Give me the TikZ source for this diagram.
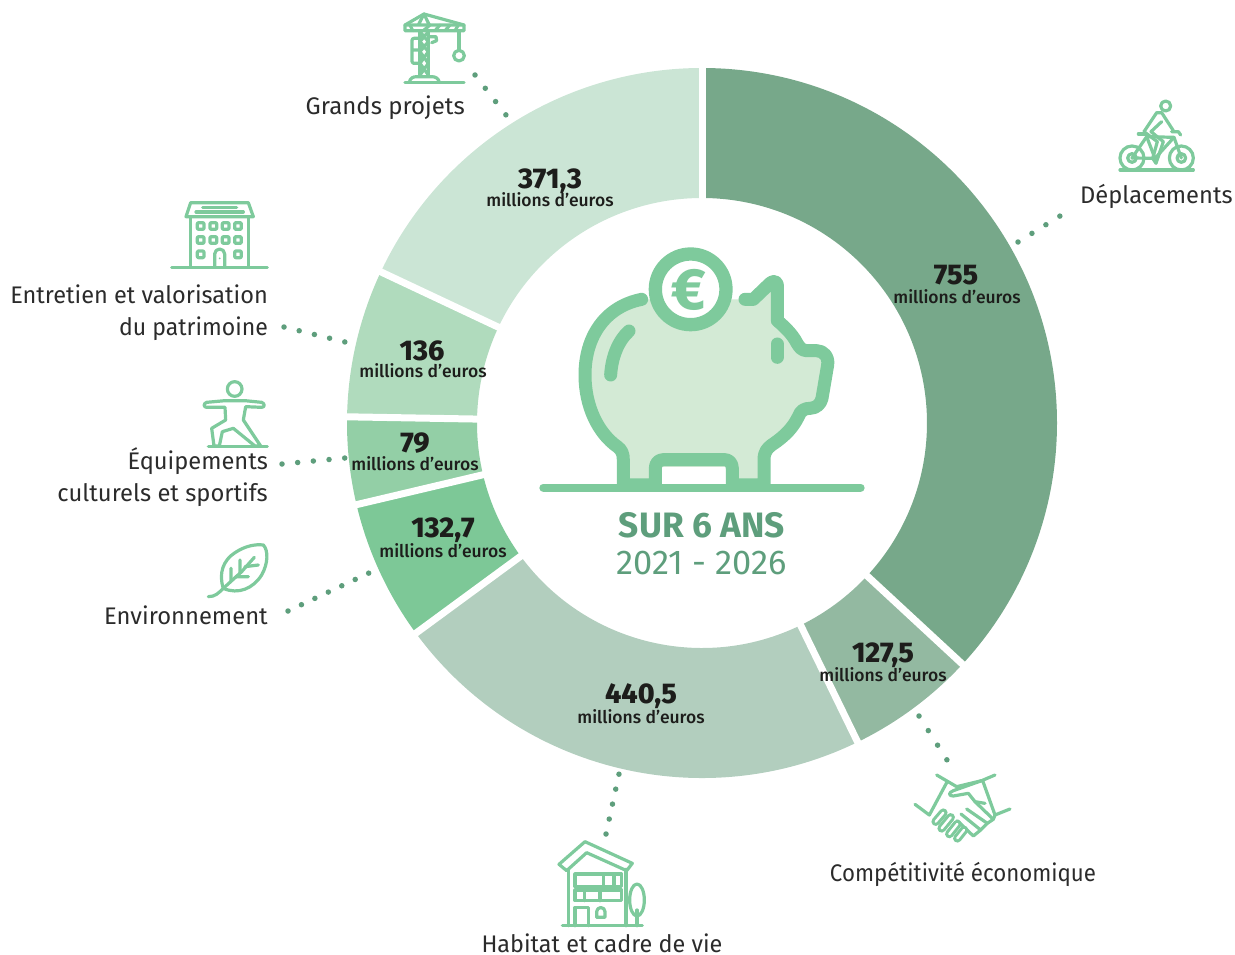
\documentclass[tikz,border=0pt]{standalone}
\usepackage{fontspec}
\setmainfont{Fira Sans}
\newfontfamily\heavyfont{Fira Sans}[UprightFont=*-ExtraBold]
\newfontfamily\mediumfont{Fira Sans}[UprightFont=*-Medium]
\usetikzlibrary{calc}
\definecolor{icongreen}{HTML}{7ECA9C}
\definecolor{pigfill}{HTML}{D3EAD5}
\definecolor{dotgreen}{HTML}{5E9E7C}
\definecolor{inkc}{HTML}{1D1D1B}
\definecolor{labelc}{HTML}{2B2B2B}
\definecolor{segA}{HTML}{77A88A}
\definecolor{segB}{HTML}{93B9A1}
\definecolor{segC}{HTML}{B2CEBE}
\definecolor{segD}{HTML}{7DC897}
\definecolor{segE}{HTML}{93CFA6}
\definecolor{segF}{HTML}{B0DBBD}
\definecolor{segG}{HTML}{CBE5D5}
\tikzset{
  catlabel/.style={font=\fontsize{24}{24}\selectfont,text=labelc,inner sep=0pt},
  numlabel/.style={font=\heavyfont\fontsize{28.5}{28.5}\selectfont,text=inkc,anchor=base,inner sep=0pt},
  unitlabel/.style={font=\mediumfont\fontsize{17.5}{17.5}\selectfont,text=inkc,anchor=base,inner sep=0pt},
  dotline/.style={dotgreen,line width=5.5,line cap=round,dash pattern=on 0pt off #1},
  dotline/.default=15,
  ico/.style={icongreen,line width=3.2,line cap=round,line join=round},
  pigline/.style={icongreen,line width=13,line cap=round,line join=round},
  crop/.style={x=0.33333pt,y=-0.33333pt},
}
\newcommand{\seg}[3]{\fill[#1] (#2:355) arc[start angle=#2,end angle=#3,radius=355] -- (#3:225) arc[start angle=#3,end angle=#2,radius=225] -- cycle;}
\newcommand{\gapline}[1]{\draw[white,line width=7] (#1:215) -- (#1:365);}
\newcommand{\sx}[2]{\scalebox{#1}[1]{#2}}
\begin{document}
\begin{tikzpicture}[x=1pt,y=-1pt]
\useasboundingbox (0,0) rectangle (1235,955);
% donut
\begin{scope}[shift={(702,423)},x=1pt,y=1pt]
  \seg{segA}{90}{-42.8}
  \seg{segB}{-42.8}{-64}
  \seg{segC}{-64}{-143.7}
  \seg{segD}{-143.7}{-166.7}
  \seg{segE}{-166.7}{-181}
  \seg{segF}{-181}{-205.2}
  \seg{segG}{-205.2}{-270}
  \foreach \a in {90,-42.8,-64,-143.7,-166.7,-181,-205.2}{\gapline{\a}}
\end{scope}
% pig
\begin{scope}[shift={(530,230)},crop]
  \fill[pigfill] (335,208) .. controls (225,230) and (165,320) .. (165,435)
     .. controls (165,530) and (205,610) .. (262,650)
     .. controls (275,660) and (280,670) .. (280,690) -- (280,765) -- (702,765) -- (702,690)
     .. controls (702,665) and (712,655) .. (725,645)
     .. controls (770,615) and (790,590) .. (805,560)
     .. controls (812,540) and (825,535) .. (840,535)
     .. controls (860,535) and (873,520) .. (876,505) -- (893,405)
     .. controls (897,380) and (880,362) .. (860,362) -- (830,362)
     .. controls (815,362) and (807,350) .. (800,338)
     .. controls (790,318) and (770,295) .. (742,272) -- (742,165)
     .. controls (742,155) and (730,150) .. (720,160) -- (670,208) -- (335,208) -- cycle;
  \fill[white] (376,765) -- (376,710) -- (607,710) -- (607,765) -- cycle;
  \draw[pigline] (335,208) .. controls (225,230) and (165,320) .. (165,435)
     .. controls (165,530) and (205,610) .. (262,650)
     .. controls (275,660) and (280,670) .. (280,690) -- (280,765) -- (376,765) -- (376,715)
     .. controls (376,700) and (385,689) .. (400,689) -- (585,689)
     .. controls (597,689) and (607,700) .. (607,715) -- (607,765) -- (702,765) -- (702,690)
     .. controls (702,665) and (712,655) .. (725,645)
     .. controls (770,615) and (790,590) .. (805,560)
     .. controls (812,540) and (825,535) .. (840,535)
     .. controls (860,535) and (873,520) .. (876,505) -- (893,405)
     .. controls (897,380) and (880,362) .. (860,362) -- (830,362)
     .. controls (815,362) and (807,350) .. (800,338)
     .. controls (790,318) and (770,295) .. (742,272) -- (742,165)
     .. controls (742,155) and (730,150) .. (720,160) -- (670,208) -- (645,208);
  \draw[pigline] (297,303) .. controls (262,335) and (245,385) .. (242,435);
  \draw[pigline] (741,342) -- (741,382);
  \draw[icongreen,line width=8,line cap=round] (40,773) -- (992,773);
  \fill[white] (482,178) circle (106);
  \draw[icongreen,line width=13.3] (482,178) circle (106);
  \node[font=\heavyfont\fontsize{58}{58}\selectfont,text=icongreen,inner sep=0pt] (euro) at (475,180) {€};
\end{scope}
\node[font=\bfseries\fontsize{35.3}{35.3}\selectfont,text=dotgreen,anchor=base,inner sep=0pt] (sur) at (702,537) {SUR 6 ANS};
\node[font=\fontsize{34.4}{34.4}\selectfont,text=dotgreen,anchor=base,inner sep=0pt] (ans) at (702,574) {2021 - 2026};
% values
\node[numlabel] (n1) at (956,284) {755};
\node[unitlabel] (u1) at (957,303) {millions d’euros};
\node[numlabel] (n2) at (883,662) {127,5};
\node[unitlabel] (u2) at (883,681) {millions d’euros};
\node[numlabel] (n3) at (641,703) {440,5};
\node[unitlabel] (u3) at (641,723) {millions d’euros};
\node[numlabel] (n4) at (443,537) {132,7};
\node[unitlabel] (u4) at (443,557) {millions d’euros};
\node[numlabel] (n5) at (415,452) {79};
\node[unitlabel] (u5) at (415,470) {millions d’euros};
\node[numlabel] (n6) at (422,360) {136};
\node[unitlabel] (u6) at (423,377) {millions d’euros};
\node[numlabel] (n7) at (550,189) {371,3};
\node[unitlabel] (u7) at (550,207) {millions d’euros};
% category labels
\node[catlabel,anchor=base east] (grands) at (465,114.5) {Grands projets};
\node[catlabel,anchor=base west] (depl) at (1080,204) {\sx{0.987}{Déplacements}};
\node[catlabel,anchor=base east] (entre) at (268,303) {\sx{0.98}{Entretien et valorisation}};
\node[catlabel,anchor=base east] (patri) at (268,335) {\sx{0.96}{du patrimoine}};
\node[catlabel,anchor=base east] (equip) at (268,469) {\sx{0.985}{Équipements}};
\node[catlabel,anchor=base east] (cult) at (268,501) {\sx{0.99}{culturels et sportifs}};
\node[catlabel,anchor=base east] (envi) at (268,624) {\sx{0.99}{Environnement}};
\node[catlabel,anchor=base] (comp) at (963,881) {\sx{0.927}{Compétitivité économique}};
\node[catlabel,anchor=base] (habi) at (602,952) {\sx{0.975}{Habitat et cadre de vie}};
% dotted connectors
\coordinate (g1) at (475,75); \coordinate (g2) at (506,115);
\coordinate (d1) at (1018,242); \coordinate (d2) at (1060,216);
\coordinate (e1) at (284,327); \coordinate (e2) at (345,342);
\coordinate (q1) at (282,464); \coordinate (q2) at (345,458);
\coordinate (v1) at (288,611); \coordinate (v2) at (369,573);
\coordinate (c1) at (919,716); \coordinate (c2) at (947,760);
\coordinate (h1) at (606,834); \coordinate (h2) at (619,774);
\draw[dotline=16.8] (g1) -- (g2);
\draw[dotline=16.4] (d1) -- (d2);
\draw[dotline=15.65] (e1) -- (e2);
\draw[dotline=15.75] (q1) -- (q2);
\draw[dotline=14.85] (v1) -- (v2);
\draw[dotline=17.3] (c1) -- (c2);
\draw[dotline=15.3] (h1) -- (h2);
% crane
\begin{scope}[shift={(390,0)},crop,ico]
  \draw (45,92) -- (45,75) -- (102,42) -- (222,75) -- (222,92) -- cycle;
  \draw (45,75) -- (222,75) (85,75) -- (102,42) -- (118,75);
  \draw (68,92) -- (60,75)  (100,92) -- (120,75) (135,92) -- (150,75) (165,92) -- (180,75) (195,92) -- (205,75);
  \draw (90,92) -- (90,228) (115,92) -- (115,228);
  \draw (90,95) -- (115,125) -- (90,155) -- (115,190) -- (90,225) (115,95) -- (90,125) -- (115,155) -- (90,190) -- (115,225);
  \draw[rounded corners=2] (90,115) -- (66,115) -- (66,190) -- (90,190) (66,150) -- (90,150);
  \draw (207,92) -- (207,150);
  \draw (207,167) circle (16);
  \draw (118,110) -- (138,110) -- (140,122) -- (125,128);
  \draw (45,247) -- (222,247);
  \draw (58,247) .. controls (60,235) and (68,230) .. (80,230) -- (125,230) .. controls (137,230) and (145,235) .. (148,247);
\end{scope}
% bike
\begin{scope}[shift={(1070,90)},crop,ico]
  \draw (287,48) circle (15);
  \draw (150,240) -- (370,240);
  \draw (186,204) circle (36) (186,204) circle (13);
  \draw (334,204) circle (36) (334,204) circle (13);
  \draw (186,204) -- (230,140) -- (312,142) -- (334,204);
  \draw (186,204) -- (255,205) -- (312,142);
  \draw (230,140) -- (255,205);
  \draw (205,132) -- (228,132);
  \draw (305,125) -- (325,125) -- (332,135);
  \draw[line join=round] (222,125) -- (260,68) -- (275,68) -- (310,122);
  \draw (275,95) -- (243,125) -- (280,155) -- (258,220) -- (248,205) -- (262,155) -- (222,125);
\end{scope}
% building
\begin{scope}[shift={(160,190)},crop,ico]
  \draw (35,232) -- (322,232);
  \draw (92,80) -- (92,232) (265,80) -- (265,232);
  \draw (92,38) -- (265,38) -- (280,80) -- (78,80) -- cycle;
  \draw (128,52) -- (230,52) (108,66) -- (250,66);
  \foreach \c in {122,160,197,234}{\foreach \r in {108,150}{\draw[rounded corners=1] (\c-10,\r-10) rectangle (\c+10,\r+10);}}
  \draw[rounded corners=1] (112,183) rectangle (132,203);
  \draw[rounded corners=1] (224,183) rectangle (244,203);
  \draw (164,230) -- (164,192) arc[start angle=180,end angle=360,radius=15] -- (194,230);
  \fill[icongreen] (179,205) circle (3);
\end{scope}
% yogi
\begin{scope}[shift={(190,370)},crop,ico]
  \draw (134,57) circle (22);
  \draw (55,230) -- (232,230);
  \draw (50,97) -- (105,92) -- (165,92) -- (215,97) .. controls (225,100) and (225,112) .. (215,112) -- (167,110) -- (160,150) -- (212,228) -- (195,228) -- (130,175) -- (97,185) -- (88,228) -- (72,228) -- (65,175) -- (107,150) -- (105,112) -- (50,112) .. controls (40,112) and (40,100) .. (50,97) -- cycle;
\end{scope}
% leaf
\begin{scope}[shift={(195,530)},crop,ico]
  \draw (40,200) .. controls (60,200) and (70,190) .. (85,175) -- (140,125) -- (178,82);
  \draw (85,175) .. controls (70,130) and (85,90) .. (120,68) .. controls (150,48) and (180,42) .. (205,45) .. controls (220,60) and (220,100) .. (200,135) .. controls (175,175) and (130,195) .. (85,175) -- cycle;
  \draw (108,152) -- (108,115) (135,128) -- (135,90) (122,140) -- (160,140) (150,110) -- (190,105);
\end{scope}
% handshake
\begin{scope}[shift={(900,760)},crop,ico]
  \draw (110,45) -- (170,80) -- (245,62) -- (285,45);
  \draw (45,133) -- (88,165) -- (140,68);
  \draw (330,147) -- (285,165) -- (248,62);
  \draw (245,62) -- (160,92) .. controls (145,98) and (145,108) .. (160,108) -- (205,100) -- (225,125) -- (255,130);
  \draw (225,125) -- (280,178) -- (262,190) -- (200,147);
  \draw (262,190) -- (242,210) -- (183,162);
  \draw (242,210) -- (220,228) -- (172,182);
  \draw (280,178) -- (285,165);
  \foreach \a/\b/\c/\d in {107/185/130/158,125/205/152/172,148/222/172/192,172/235/192/210}{
    \draw[icongreen,line width=8.6] (\a,\b) -- (\c,\d);
    \draw[white,line width=2.4] (\a,\b) -- (\c,\d);}
\end{scope}
% house
\begin{scope}[shift={(545,830)},crop,ico]
  \draw (42,103) -- (120,35) -- (262,100) -- (245,122) -- (125,68) -- (65,122) -- cycle;
  \draw (70,118) -- (70,287) (243,118) -- (243,287);
  \draw (52,287) -- (292,287);
  \draw (90,132) rectangle (230,170) (175,132) -- (175,170) (207,132) -- (207,170);
  \draw (90,180) rectangle (230,212) (118,180) -- (118,212) (165,180) -- (165,212);
  \draw (90,287) -- (90,232) -- (130,232) -- (130,287);
  \draw (155,262) -- (155,245) arc[start angle=180,end angle=360,radius=12.5] -- (180,262) -- cycle;
  \draw (276,210) ellipse (22 and 48);
  \draw (276,240) -- (276,287);
\end{scope}
\end{tikzpicture}
\end{document}
